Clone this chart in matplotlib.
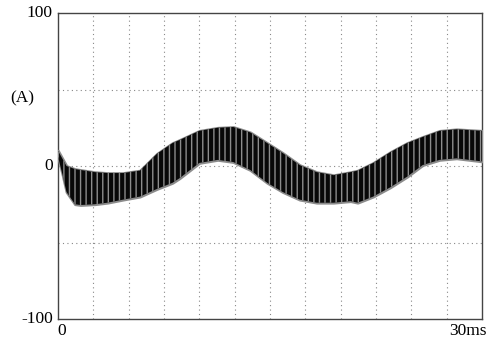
import matplotlib
matplotlib.use("Agg")
import matplotlib.pyplot as plt

# envelope of the rippled current trace (ms, A)
t_ms = [0, 0.3, 0.6, 1.2, 1.6, 2.6, 3.5, 4.6, 5.8, 7.0, 8.1, 8.6, 10.0, 11.3,
        12.4, 13.6, 14.8, 15.9, 17.1, 18.3, 19.5, 20.7, 21.2, 22.3, 23.5,
        24.7, 25.8, 27.0, 28.2, 30.0]
upper = [10, 5, 0, -2, -2.6, -4, -4.6, -4.6, -3, 8, 15, 17, 23, 25,
         25.5, 22, 15, 8.5, 0.6, -4, -6, -4, -3, 2, 9,
         15, 19, 23, 24, 23]
lower = [6, -5, -17, -25, -25.5, -25, -24, -22, -20, -15, -11, -8, 2, 4,
         2.6, -2.6, -11, -17, -22, -24, -24, -23, -24, -20, -14,
         -7, 0.6, 4, 5, 3]

x_limits = [0, 30]

plt.rcParams['font.family'] = ['Liberation Serif', 'DejaVu Serif']
plt.rcParams['hatch.linewidth'] = 1.0

fig = plt.figure(figsize=(4.88, 3.41), dpi=100)
ax = fig.add_axes([58/488, 22/341, 424/488, 306/341])
ax.set_xlim(*x_limits)
ax.set_ylim(-100, 100)

# dotted grid
for k in range(1, 12):
    ax.axvline(k * 2.5, color='#888888', lw=0.8, ls=(0, (1, 3)), zorder=1)
for v in (-50, 0, 50):
    ax.axhline(v, color='#888888', lw=0.8, ls=(0, (1, 3)), zorder=1)

# gray fringe of the ripple band
ax.fill_between(t_ms, lower, upper, facecolor='#8c8c8c', edgecolor='#8c8c8c',
                linewidth=2.0, zorder=3)
# dark core with lighter switching streaks
ax.fill_between(t_ms, lower, upper, facecolor='#080808', edgecolor='#8c8c8c',
                hatch='|||', linewidth=0, zorder=4)

ax.set_xticks([])
ax.set_yticks([])
for s in ax.spines.values():
    s.set_color('#444444')
    s.set_linewidth(1.0)

fs = 12.5
ax.text(-0.012, 1.0, '100', transform=ax.transAxes, ha='right', va='center', fontsize=fs)
ax.text(-0.012, 0.5, '0', transform=ax.transAxes, ha='right', va='center', fontsize=fs)
ax.text(-0.012, 0.0, '-100', transform=ax.transAxes, ha='right', va='center', fontsize=fs)
fig.text(22/488, 1 - 98/341, '(A)', ha='center', va='center', fontsize=fs)
fig.text(62/488, 1 - 331/341, '0', ha='center', va='center', fontsize=fs)
fig.text(468/488, 1 - 331/341, '30ms', ha='center', va='center', fontsize=fs)

fig.savefig('out.png', dpi=100)
